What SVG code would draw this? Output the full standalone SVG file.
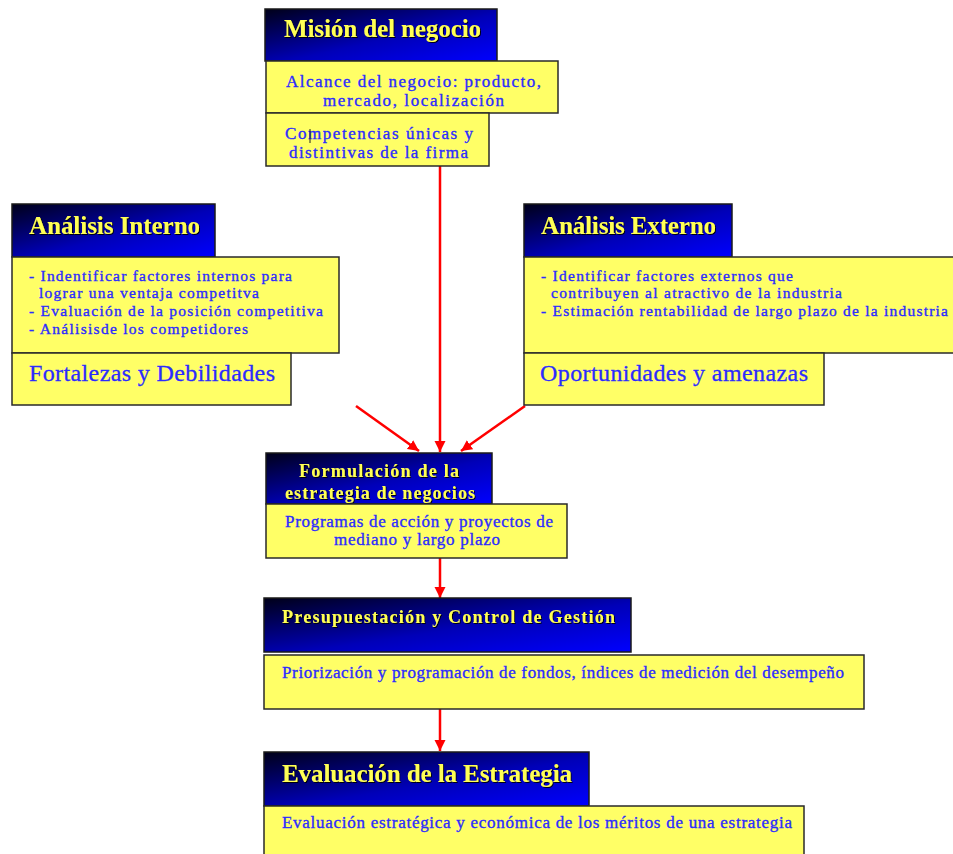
<svg xmlns="http://www.w3.org/2000/svg" width="953" height="854" viewBox="0 0 953 854">
  <defs>
    <linearGradient id="hdrGrad" x1="0" y1="0" x2="1" y2="1">
      <stop offset="0" stop-color="#000018"/>
      <stop offset="0.55" stop-color="#0000b8"/>
      <stop offset="1" stop-color="#0000ff"/>
    </linearGradient>
    <filter id="shadow" x="-5%" y="-20%" width="110%" height="140%">
      <feDropShadow dx="1" dy="1" stdDeviation="0.6" flood-color="#000000" flood-opacity="0.9"/>
    </filter>
    <marker id="arrow" markerUnits="userSpaceOnUse" markerWidth="12" markerHeight="12" refX="11" refY="5.5" orient="auto">
      <path d="M0,0 L11,5.5 L0,11 z" fill="#ff0000"/>
    </marker>
  </defs>
  <style>
    .hdr { fill: url(#hdrGrad); stroke: #1a1a1a; stroke-width: 1.5; }
    .box { fill: #ffff66; stroke: #2a2a2a; stroke-width: 1.5; }
    .title { font-family: "Liberation Serif", "Times New Roman", serif; font-weight: bold; fill: #ffff55; filter: url(#shadow); }
    .t24 { font-size: 25px; }
    .t18 { font-size: 18px; }
    .body { font-family: "Liberation Serif", "Times New Roman", serif; font-size: 17px; fill: #2b2bff; stroke: #2b2bff; stroke-width: 0.35; }
    .list { font-size: 15.5px; }
    .big { font-family: "Liberation Serif", "Times New Roman", serif; font-size: 24px; fill: #2b2bff; stroke: #2b2bff; stroke-width: 0.3; }
    .conn { stroke: #ff0000; stroke-width: 2.5; fill: none; marker-end: url(#arrow); }
  </style>

  <!-- connectors -->
  <g id="connectors">
    <line class="conn" x1="440" y1="166" x2="440" y2="452"/>
    <line class="conn" x1="356" y1="406" x2="419" y2="451"/>
    <line class="conn" x1="525" y1="406" x2="461" y2="451"/>
    <line class="conn" x1="440" y1="558" x2="440" y2="598"/>
    <line class="conn" x1="440" y1="709" x2="440" y2="751"/>
  </g>

  <!-- business mission -->
  <g id="mision">
    <rect class="hdr" x="265" y="9" width="232" height="52"/>
    <text class="title t24" x="284" y="37" textLength="197">Misión del negocio</text>
    <rect class="box" x="266" y="61" width="292" height="52"/>
    <text class="body" x="286" y="87" textLength="255">Alcance del negocio: producto,</text>
    <text class="body" x="323" y="106" textLength="181">mercado, localización</text>
    <rect class="box" x="266" y="113" width="223" height="53"/>
    <text class="body" x="285" y="139" textLength="188">Competencias únicas y</text>
    <line x1="310" y1="129" x2="310" y2="143" stroke="#222" stroke-width="1"/>
    <text class="body" x="289" y="158" textLength="179">distintivas de la firma</text>
  </g>

  <!-- internal analysis -->
  <g id="analisis-interno">
    <rect class="hdr" x="12" y="204" width="203" height="53"/>
    <text class="title t24" x="29" y="234" textLength="171">Análisis Interno</text>
    <rect class="box" x="12" y="257" width="327" height="96"/>
    <text class="body list" x="29" y="281" textLength="263">- Indentificar factores internos para</text>
    <text class="body list" x="39" y="298" textLength="220">lograr una ventaja competitva</text>
    <text class="body list" x="29" y="316" textLength="294">- Evaluación de la posición competitiva</text>
    <text class="body list" x="29" y="334" textLength="219">- Análisisde los competidores</text>
    <rect class="box" x="12" y="353" width="279" height="52"/>
    <text class="big" x="29" y="381" textLength="246">Fortalezas y Debilidades</text>
  </g>

  <!-- external analysis -->
  <g id="analisis-externo">
    <rect class="hdr" x="524" y="204" width="208" height="53"/>
    <text class="title t24" x="541" y="234" textLength="175">Análisis Externo</text>
    <rect class="box" x="524" y="257" width="440" height="96"/>
    <text class="body list" x="541" y="281" textLength="252">- Identificar factores externos que</text>
    <text class="body list" x="551" y="298" textLength="291">contribuyen al atractivo de la  industria</text>
    <text class="body list" x="541" y="316" textLength="407">- Estimación rentabilidad de largo plazo de la industria</text>
    <rect class="box" x="524" y="353" width="300" height="52"/>
    <text class="big" x="540" y="381" textLength="268">Oportunidades y amenazas</text>
  </g>

  <!-- strategy formulation -->
  <g id="formulacion">
    <rect class="hdr" x="266" y="453" width="226" height="51"/>
    <text class="title t18" x="299" y="477" textLength="160">Formulación de la</text>
    <text class="title t18" x="285" y="499" textLength="190">estrategia de negocios</text>
    <rect class="box" x="266" y="504" width="301" height="54"/>
    <text class="body" x="285" y="527" textLength="268">Programas de acción y proyectos de</text>
    <text class="body" x="334" y="545" textLength="166">mediano y largo plazo</text>
  </g>

  <!-- budgeting and management control -->
  <g id="presupuestacion">
    <rect class="hdr" x="264" y="598" width="367" height="54"/>
    <text class="title t18" x="282" y="623" textLength="333">Presupuestación y Control de Gestión</text>
    <rect class="box" x="264" y="655" width="600" height="54"/>
    <text class="body" x="282" y="678" textLength="562">Priorización y programación de fondos, índices de medición del desempeño</text>
  </g>

  <!-- strategy evaluation -->
  <g id="evaluacion">
    <rect class="hdr" x="264" y="752" width="325" height="54"/>
    <text class="title t24" x="282" y="782" textLength="290">Evaluación de la Estrategia</text>
    <rect class="box" x="264" y="806" width="540" height="60"/>
    <text class="body" x="282" y="828" textLength="510">Evaluación estratégica y económica de los méritos de una estrategia</text>
  </g>
</svg>
